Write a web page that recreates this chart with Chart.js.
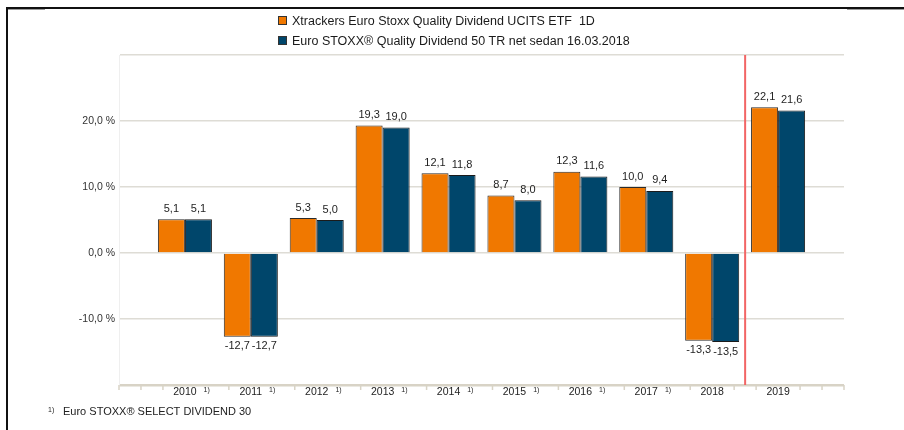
<!DOCTYPE html>
<html>
<head>
<meta charset="utf-8">
<script src="https://cdn.jsdelivr.net/npm/chart.js@4/dist/chart.umd.min.js"></script>
<style>
  html, body { margin: 0; padding: 0; background: #ffffff; }
  #wrap { width: 904px; height: 430px; }
</style>
</head>
<body>
<div id="wrap"><canvas id="c" width="904" height="430"></canvas></div>
<script>
// ---- data ----
const years = ['', '2010', '2011', '2012', '2013', '2014', '2015', '2016', '2017', '2018', '2019', ''];
const etfValues = [null, 5.1, -12.7, 5.3, 19.3, 12.1, 8.7, 12.3, 10.0, -13.3, 22.1, null];
const indexValues = [null, 5.1, -12.7, 5.0, 19.0, 11.8, 8.0, 11.6, 9.4, -13.5, 21.6, null];
const footnoteYears = ['2010', '2011', '2012', '2013', '2014', '2015', '2016', '2017'];
const seriesNames = [
  'Xtrackers Euro Stoxx Quality Dividend UCITS ETF  1D',
  'Euro STOXX\u00AE Quality Dividend 50 TR net sedan 16.03.2018'
];
const footnoteText = 'Euro STOXX\u00AE SELECT DIVIDEND 30';
const yTicksShown = [-10, 0, 10, 20];
// axis minor marks in category units
const axisMarks = [0, 1/3, 2/3, 5/3, 8/3, 11/3, 14/3, 17/3, 20/3, 23/3, 26/3, 28/3, 29/3, 31/3, 32/3, 11];
const changeLineAt = 9.5; // between 2018 and 2019

const FONT = '"Liberation Sans", Arial, sans-serif';
const ORANGE = '#f07800';
const BLUE = '#00466b';
const AXIS_BEIGE = '#d8d3c6';

const fmt = v => v.toFixed(1).replace('.', ',');

const decorPlugin = {
  id: 'decor',
  beforeDraw(chart) {
    const ctx = chart.ctx;
    ctx.save();
    ctx.fillStyle = '#ffffff';
    ctx.fillRect(0, 0, chart.width, chart.height);
    ctx.restore();
  },
  afterDatasetsDraw(chart) {
    const ctx = chart.ctx;
    ctx.save();
    ctx.font = '11px ' + FONT;
    ctx.fillStyle = '#1e1e1e';
    ctx.textAlign = 'center';
    chart.data.datasets.forEach((ds, di) => {
      const meta = chart.getDatasetMeta(di);
      meta.data.forEach((el, i) => {
        const v = ds.data[i];
        if (v === null || v === undefined) return;
        if (v >= 0) {
          ctx.textBaseline = 'bottom';
          ctx.fillText(fmt(v), el.x, el.y - 5);
        } else {
          ctx.textBaseline = 'top';
          ctx.fillText(fmt(v), el.x, el.y + 4);
        }
      });
    });
    ctx.restore();
  },
  afterDraw(chart) {
    const ctx = chart.ctx;
    const xs = chart.scales.x;
    const area = chart.chartArea;
    ctx.save();
    // red vertical marker
    const rx = xs.getPixelForValue(changeLineAt);
    ctx.strokeStyle = '#f26565';
    ctx.lineWidth = 2;
    ctx.beginPath();
    ctx.moveTo(rx, area.top);
    ctx.lineTo(rx, area.bottom);
    ctx.stroke();
    // axis minor marks
    ctx.strokeStyle = AXIS_BEIGE;
    ctx.lineWidth = 1.5;
    axisMarks.forEach(m => {
      const px = xs.getPixelForValue(m);
      ctx.beginPath();
      ctx.moveTo(px, area.bottom);
      ctx.lineTo(px, area.bottom + 5);
      ctx.stroke();
    });
    // footnote superscripts on x labels
    ctx.fillStyle = '#222';
    ctx.textBaseline = 'middle';
    ctx.textAlign = 'left';
    years.forEach((y, i) => {
      if (!footnoteYears.includes(y)) return;
      ctx.font = '10.5px ' + FONT;
      const w = ctx.measureText(y).width;
      const px = xs.getPixelForValue(i);
      ctx.font = '7px ' + FONT;
      ctx.fillText('1)', px + w / 2 + 7, area.bottom + 5);
    });
    // legend
    const legendColors = [ORANGE, BLUE];
    seriesNames.forEach((name, i) => {
      const ly = 16 + i * 20;
      ctx.fillStyle = legendColors[i];
      ctx.fillRect(278.5, ly + 0.5, 8, 8);
      ctx.strokeStyle = '#333';
      ctx.lineWidth = 1;
      ctx.strokeRect(278.5, ly + 0.5, 8, 8);
      ctx.fillStyle = '#1a1a1a';
      ctx.font = '12.5px ' + FONT;
      ctx.textBaseline = 'alphabetic';
      ctx.fillText(name, 292, ly + 8.5);
    });
    // footnote
    ctx.fillStyle = '#222';
    ctx.font = '7px ' + FONT;
    ctx.textBaseline = 'alphabetic';
    ctx.fillText('1)', 48, 412);
    ctx.font = '11px ' + FONT;
    ctx.fillText(footnoteText, 63, 414.5);
    // frame
    ctx.strokeStyle = '#111';
    ctx.lineWidth = 2;
    ctx.beginPath();
    ctx.moveTo(7, 430);
    ctx.lineTo(7, 8);
    ctx.lineTo(904, 8);
    ctx.stroke();
    ctx.strokeStyle = '#9a9a9a';
    ctx.lineWidth = 1;
    ctx.beginPath();
    ctx.moveTo(8, 9.5); ctx.lineTo(45, 9.5);
    ctx.moveTo(847, 9.5); ctx.lineTo(904, 9.5);
    ctx.stroke();
    ctx.restore();
  }
};

new Chart(document.getElementById('c'), {
  type: 'bar',
  data: {
    labels: years,
    datasets: [
      { label: seriesNames[0], data: etfValues, backgroundColor: ORANGE, borderColor: '#2b2b2b', borderWidth: 1 },
      { label: seriesNames[1], data: indexValues, backgroundColor: BLUE, borderColor: '#1b1b1b', borderWidth: 1 }
    ]
  },
  options: {
    responsive: false,
    animation: false,
    devicePixelRatio: 1,
    layout: { padding: { top: 55, right: 60, left: 0, bottom: 0 } },
    plugins: { legend: { display: false }, tooltip: { enabled: false } },
    datasets: { bar: { categoryPercentage: 0.82, barPercentage: 1.0 } },
    scales: {
      x: {
        type: 'category',
        offset: false,
        grid: { display: false, drawTicks: false },
        border: { display: false },
        ticks: {
          autoSkip: false, maxRotation: 0, padding: 1,
          color: '#222', font: { family: FONT, size: 10.5 }
        },
        afterFit(scale) { scale.height = 45; }
      },
      y: {
        min: -20, max: 30,
        grid: {
          drawTicks: false,
          color: ctx => (ctx.tick && ctx.tick.value === -20) ? AXIS_BEIGE : '#dedcd5',
          lineWidth: ctx => (ctx.tick && ctx.tick.value === -20) ? 2.5 : 1.5
        },
        border: { display: true, color: '#efefef', width: 1 },
        ticks: {
          stepSize: 10, padding: 4,
          color: '#333', font: { family: FONT, size: 10.5 },
          callback: v => yTicksShown.includes(v) ? fmt(v) + ' %' : ''
        },
        afterFit(scale) { scale.width = 119; }
      }
    }
  },
  plugins: [decorPlugin]
});
</script>
</body>
</html>
